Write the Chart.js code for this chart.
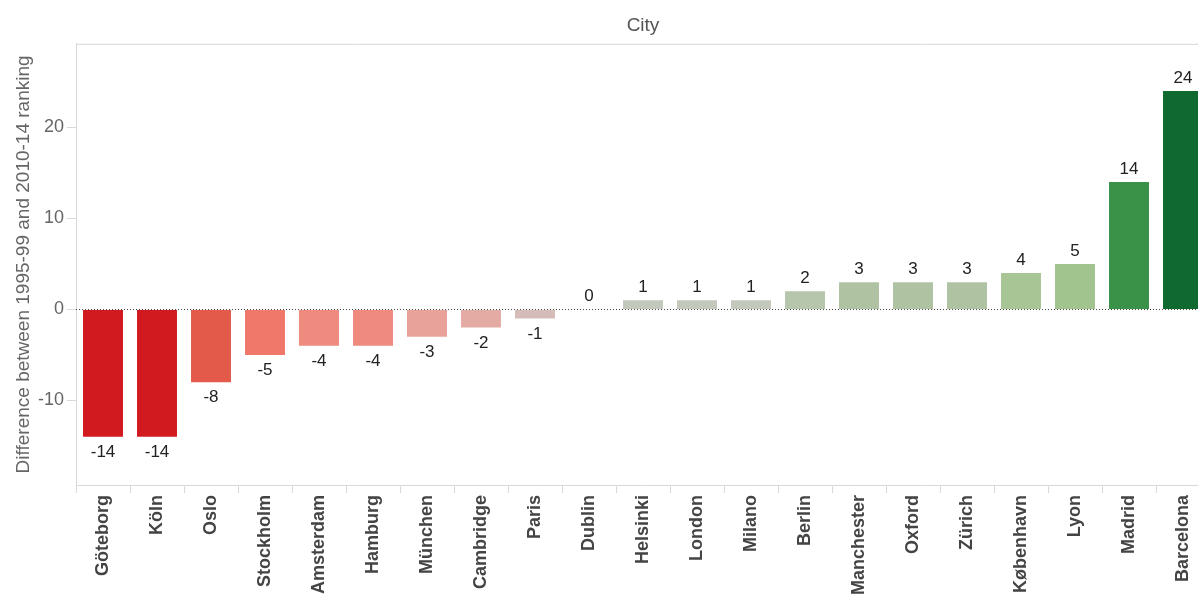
<!DOCTYPE html>
<html>
<head>
<meta charset="utf-8">
<script src="https://cdn.jsdelivr.net/npm/chart.js@4"></script>
<style>
  html, body { margin: 0; padding: 0; background: #fff; overflow: hidden; }
  #wrap { width: 1212px; height: 595px; position: relative; }
</style>
</head>
<body>
<div id="wrap"><canvas id="grafico"></canvas></div>
<script>
// Datos
const ciudades = ["Göteborg", "Köln", "Oslo", "Stockholm", "Amsterdam", "Hamburg", "München", "Cambridge", "Paris", "Dublin",
  "Helsinki", "London", "Milano", "Berlin", "Manchester", "Oxford", "Zürich", "København", "Lyon", "Madrid", "Barcelona"];
const diferencias = [-14, -14, -8, -5, -4, -4, -3, -2, -1, 0, 1, 1, 1, 2, 3, 3, 3, 4, 5, 14, 24];
const colores = ["#d01a1f", "#d01a1f", "#e35a4b", "#f0786b", "#ee8a7e", "#ee8a7e", "#e8a29a", "#e3aba4", "#d6bcb8", "#cfcfcf",
  "#c3c8bd", "#c3c8bd", "#c3c8bd", "#b6c6ad", "#afc3a2", "#afc3a2", "#afc3a2", "#a8c596", "#a1c48e", "#3a9248", "#0e6a2e"];

const fuente = "Arial, 'Liberation Sans', sans-serif";

// Linea punteada en cero, borde superior y etiquetas de valor
const extras = {
  id: 'extras',
  beforeDatasetsDraw(chart) {
    const { ctx, chartArea, scales } = chart;
    ctx.save();
    ctx.strokeStyle = '#d6d6d6';
    ctx.lineWidth = 1;
    ctx.beginPath();
    ctx.moveTo(chartArea.left, chartArea.top + 0.5);
    ctx.lineTo(chartArea.right, chartArea.top + 0.5);
    ctx.stroke();
    const y0 = Math.round(scales.y.getPixelForValue(0)) + 0.5;
    ctx.strokeStyle = '#444';
    ctx.setLineDash([1, 2]);
    ctx.beginPath();
    ctx.moveTo(chartArea.left, y0);
    ctx.lineTo(chartArea.right, y0);
    ctx.stroke();
    ctx.restore();
  },
  afterDatasetsDraw(chart) {
    const { ctx } = chart;
    const meta = chart.getDatasetMeta(0);
    ctx.save();
    ctx.font = '17px ' + fuente;
    ctx.fillStyle = '#222';
    ctx.textAlign = 'center';
    meta.data.forEach((bar, i) => {
      const v = diferencias[i];
      if (v < 0) {
        ctx.textBaseline = 'top';
        ctx.fillText(String(v), bar.x, bar.y + 7);
      } else {
        ctx.textBaseline = 'alphabetic';
        ctx.fillText(String(v), bar.x, bar.y - 8);
      }
    });
    ctx.restore();
  }
};

const ctx = document.getElementById('grafico').getContext('2d');
new Chart(ctx, {
  type: 'bar',
  data: {
    labels: ciudades,
    datasets: [{
      label: 'Difference',
      data: diferencias,
      backgroundColor: colores,
      borderWidth: 0,
      barPercentage: 0.74,
      categoryPercentage: 1
    }]
  },
  options: {
    responsive: true,
    maintainAspectRatio: false,
    animation: false,
    layout: { padding: { left: 0, right: 2, top: 0, bottom: 0 } },
    plugins: {
      legend: { display: false },
      tooltip: { enabled: false },
      title: {
        display: true,
        text: 'City',
        fullSize: false,
        color: '#555',
        font: { family: fuente, size: 19, weight: 'normal' },
        padding: { top: 14, bottom: 7 }
      }
    },
    scales: {
      x: {
        offset: true,
        afterFit(scale) { scale.height = 110; },
        grid: { display: true, drawOnChartArea: false, offset: true, color: '#d9d9d9', tickLength: 8 },
        border: { display: true, color: '#d9d9d9' },
        ticks: {
          autoSkip: false,
          minRotation: 90,
          maxRotation: 90,
          padding: 2,
          color: '#444',
          font: { family: fuente, size: 18, weight: 'bold' }
        }
      },
      y: {
        min: -19.3,
        max: 29.2,
        afterFit(scale) { scale.width = 76; },
        afterBuildTicks(scale) {
          scale.ticks = scale.ticks.filter(t => t.value % 10 === 0);
        },
        grid: { display: true, drawOnChartArea: false, color: '#d9d9d9', tickLength: 9 },
        border: { display: true, color: '#d9d9d9' },
        ticks: {
          stepSize: 10,
          padding: 3,
          color: '#666',
          font: { family: fuente, size: 18 }
        },
        title: {
          display: true,
          text: 'Difference between 1995-99 and 2010-14 ranking',
          color: '#666',
          font: { family: fuente, size: 19 },
          padding: { top: 12, bottom: 0 }
        }
      }
    }
  },
  plugins: [extras]
});
</script>
</body>
</html>
